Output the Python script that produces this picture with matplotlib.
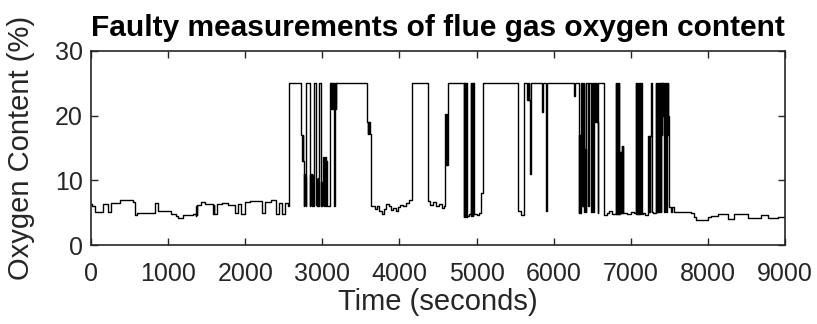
import numpy as np
import matplotlib
matplotlib.use("Agg")
import matplotlib.pyplot as plt

# (time in s, O2 in %) breakpoints, held until the next one
calm_start = [
    (0, 6.3), (15, 6.0), (56, 5.1), (156, 6.3), (221, 5.1), (264, 6.5), (372, 6.9),
    (545, 6.6), (567, 4.6), (600, 5.0), (827, 6.5), (870, 5.2), (1043, 4.8),
    (1100, 4.5), (1130, 4.2), (1195, 4.6), (1325, 4.8), (1360, 4.5), (1366, 6.0),
    (1372, 4.6), (1378, 6.2), (1420, 6.6), (1480, 6.3), (1585, 4.8), (1591, 6.2),
    (1597, 4.8), (1628, 6.3), (1700, 6.5), (1780, 6.2), (1866, 5.0), (1900, 6.3),
    (1940, 4.8), (1996, 6.6), (2061, 6.8), (2212, 4.9), (2260, 6.6), (2330, 6.9),
    (2400, 4.8), (2440, 6.5), (2480, 4.8), (2520, 6.5), (2550, 6.0),
]

fault_a = [
    (2572, 25), (2724, 17.0), (2730, 13.0), (2736, 17.0), (2742, 13.0), (2748, 17.0),
    (2754, 13.0), (2760, 6.0), (2767, 11.0), (2773, 6.2), (2779, 10.5), (2785, 6.0),
    (2793, 25), (2836, 6.1), (2842, 10.8), (2848, 6.2), (2854, 11.0), (2860, 6.0),
    (2866, 10.6), (2872, 6.2), (2878, 10.9), (2884, 6.1), (2888, 25), (2923, 6.2),
    (2929, 10.2), (2935, 6.0), (2941, 10.4), (2947, 6.1), (2953, 25), (2983, 6.0),
    (2989, 9.8), (2995, 6.1), (3001, 9.5), (3007, 6.2), (3013, 13.6), (3019, 6.0),
    (3025, 13.2), (3031, 6.1), (3037, 13.6), (3043, 6.0), (3049, 13.0), (3055, 6.2),
    (3061, 6.0), (3105, 25), (3111, 21), (3117, 25), (3123, 21), (3129, 25),
    (3135, 21), (3141, 25), (3147, 6.0), (3160, 21), (3166, 25), (3172, 21),
    (3183, 25), (3585, 19.0), (3591, 17.2), (3597, 19.0), (3603, 17.2), (3609, 19.0),
    (3615, 17.2), (3632, 6.0),
]

calm_mid = [
    (3646, 6.0), (3680, 5.5), (3710, 6.1), (3740, 5.3), (3770, 4.8), (3800, 5.6),
    (3830, 6.4), (3860, 6.0), (3890, 5.4), (3920, 5.7), (3950, 5.2), (3980, 5.8),
    (4010, 6.2), (4050, 6.0), (4090, 6.5), (4130, 6.9),
]

fault_b = [
    (4165, 25), (4369, 6.8), (4400, 6.2), (4430, 6.6), (4470, 6.0), (4510, 6.3),
    (4550, 5.7), (4580, 6.0), (4590, 12.4), (4597, 20.3), (4604, 12.4), (4611, 20.3),
    (4618, 12.4), (4625, 25), (4837, 4.3), (4843, 25), (4849, 4.3), (4855, 25),
    (4861, 4.3), (4867, 25), (4873, 4.3), (4880, 4.5), (4900, 4.8), (4923, 25),
    (4929, 4.5), (4935, 25), (4941, 4.5), (4947, 25), (4953, 4.5), (4959, 25),
    (4967, 4.8), (5000, 4.6), (5030, 4.9), (5053, 8.1), (5083, 25), (5543, 5.2),
    (5575, 4.7), (5610, 25), (5659, 22.5), (5665, 25), (5671, 22.5), (5677, 25),
    (5683, 22.5), (5690, 11.0), (5700, 25), (5846, 20.5), (5858, 25), (5898, 5.2),
    (5910, 25), (6265, 23.1), (6280, 25),
]

fault_c = [
    (6331, 5.0), (6335, 17.0), (6339, 5.0), (6343, 17.0), (6347, 5.0), (6351, 25),
    (6355, 6.0), (6359, 25), (6363, 6.0), (6367, 25), (6371, 6.0), (6375, 25),
    (6379, 6.0), (6383, 25), (6387, 6.0), (6391, 25), (6395, 14.8), (6399, 5.1),
    (6403, 14.8), (6407, 5.1), (6411, 14.8), (6415, 5.1), (6421, 25), (6447, 6.0),
    (6453, 25), (6482, 5.1), (6486, 25), (6490, 5.1), (6494, 25), (6498, 5.1),
    (6502, 25), (6506, 17.0), (6510, 25), (6514, 5.1), (6518, 25), (6522, 5.1),
    (6525, 25), (6529, 19.0), (6533, 25), (6537, 19.0), (6541, 25), (6545, 19.0),
    (6549, 25), (6553, 19.0), (6557, 25), (6561, 19.0), (6569, 5.0), (6575, 25),
    (6655, 4.6), (6690, 4.9), (6720, 5.2),
    (6760, 4.8), (6807, 25), (6813, 4.8), (6819, 25), (6825, 4.8), (6831, 25),
    (6837, 4.8), (6843, 25), (6850, 4.8), (6859, 14.4), (6865, 4.9), (6871, 14.4),
    (6877, 4.9), (6883, 15.3), (6889, 4.9), (6895, 15.3), (6902, 5.0), (6950, 4.8),
    (7000, 5.1), (7040, 4.9), (7067, 25), (7073, 4.8), (7079, 25), (7085, 4.8),
    (7091, 25), (7097, 4.8), (7103, 25), (7109, 4.8), (7115, 25), (7121, 4.8),
    (7127, 25), (7133, 4.8), (7139, 25), (7145, 4.8), (7153, 4.9), (7190, 4.6),
    (7218, 16.9), (7224, 5.1), (7230, 16.9), (7236, 5.1), (7242, 16.9), (7248, 5.1),
    (7254, 16.9), (7262, 25), (7270, 16.9), (7276, 5.1), (7283, 4.9), (7326, 25),
    (7332, 5.1), (7338, 25), (7344, 5.1), (7350, 25), (7356, 17.0), (7362, 25),
    (7368, 5.1), (7374, 25), (7380, 17.0), (7386, 25), (7392, 5.1), (7398, 25),
    (7404, 17.0), (7410, 25), (7416, 20.0), (7422, 25), (7428, 20.0), (7435, 5.1),
    (7441, 25), (7447, 17.0), (7453, 25), (7459, 5.1), (7465, 25), (7471, 17.0),
    (7477, 25), (7487, 20.0), (7493, 6.0),
]

calm_end = [
    (7500, 5.8), (7521, 5.05), (7540, 5.8), (7560, 5.05), (7781, 4.9), (7824, 4.3),
    (7846, 3.9), (7998, 4.3), (8041, 4.5), (8128, 4.8), (8258, 4.0), (8344, 4.8),
    (8517, 4.2), (8690, 4.6), (8777, 4.1), (8907, 4.3), (9000, 4.3),
]

xticks = list(range(0, 9001, 1000))
yticks = [0, 10, 20, 30]

pts = np.array(calm_start + fault_a + calm_mid + fault_b + fault_c + calm_end, dtype=float)
t, o2 = pts[:, 0], pts[:, 1]

plt.rcParams['font.family'] = ['Liberation Sans', 'DejaVu Sans']

fig = plt.figure(figsize=(8.17, 3.24), dpi=100)
ax = fig.add_axes([0.1114, 0.2438, 0.8494, 0.5988])
ax.plot(t, o2, drawstyle='steps-post', color='black', lw=1.0)

ax.set_xlim(0, 9000)
ax.set_ylim(0, 30)
ax.set_xticks(xticks)
ax.set_yticks(yticks)
ax.tick_params(direction='in', length=5, width=1, top=True, right=True,
               labelsize=18, colors='#262626')
ax.tick_params(axis='x', pad=12)
ax.tick_params(axis='y', pad=6)
for s in ax.spines.values():
    s.set_linewidth(1.2)
    s.set_color('#262626')

ax.set_xlabel("Time (seconds)", fontsize=21, color='#262626', labelpad=2)
ax.set_ylabel("Oxygen Content (%)", fontsize=21, color='#262626', labelpad=14)
ax.set_title("Faulty measurements of flue gas oxygen content", fontsize=21.5,
             fontweight='bold', pad=11)

fig.savefig("out.png", dpi=100)
